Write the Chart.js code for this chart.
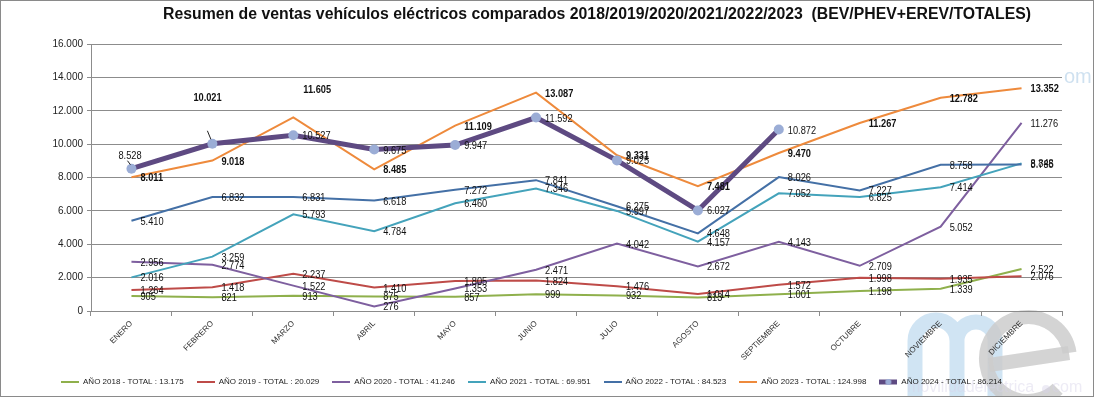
<!DOCTYPE html>
<html><head><meta charset="utf-8">
<script src="https://cdn.jsdelivr.net/npm/chart.js@4.4.1/dist/chart.umd.min.js"></script>
<style>
html,body{margin:0;padding:0;background:#fff;}
#wrap{position:relative;width:1094px;height:397px;box-sizing:border-box;border:1px solid #8a8a8a;background:#fff;overflow:hidden;}
canvas{display:block;}
</style></head><body>
<div id="wrap"><canvas id="c" width="1092" height="395"></canvas></div>
<script>
const TITLE = 'Resumen de ventas vehículos eléctricos comparados 2018/2019/2020/2021/2022/2023  (BEV/PHEV+EREV/TOTALES)';
const months = ['ENERO','FEBRERO','MARZO','ABRIL','MAYO','JUNIO','JULIO','AGOSTO','SEPTIEMBRE','OCTUBRE','NOVIEMBRE','DICIEMBRE'];
const ventas2018 = [905, 821, 913, 875, 857, 999, 932, 813, 1001, 1198, 1339, 2522];
const ventas2019 = [1264, 1418, 2237, 1410, 1805, 1824, 1476, 1014, 1572, 1998, 1935, 2076];
const ventas2020 = [2956, 2774, 1522, 276, 1353, 2471, 4042, 2672, 4143, 2709, 5052, 11276];
const ventas2021 = [2016, 3259, 5793, 4784, 6460, 7346, 5997, 4157, 7052, 6825, 7414, 8848];
const ventas2022 = [5410, 6832, 6831, 6618, 7272, 7841, 6275, 4648, 8026, 7227, 8758, 8785];
const ventas2023 = [8011, 9018, 11605, 8485, 11109, 13087, 9331, 7481, 9470, 11267, 12782, 13352];
const ventas2024 = [8528, 10021, 10527, 9675, 9947, 11592, 9025, 6027, 10872];
const legendNames = [
  'AÑO 2018 - TOTAL : 13.175',
  'AÑO 2019 - TOTAL : 20.029',
  'AÑO 2020 - TOTAL : 41.246',
  'AÑO 2021 - TOTAL : 69.951',
  'AÑO 2022 - TOTAL : 84.523',
  'AÑO 2023 - TOTAL : 124.998',
  'AÑO 2024 - TOTAL : 86.214'
];
const yMin = 0, yMax = 16000, yStep = 2000;

const FONT = "'Liberation Sans', Arial, sans-serif";
const GRID = '#8c8c8c';
const colors = ['#8fb04c', '#be4b48', '#7e5f9f', '#44a3bb', '#4470a6', '#ee8a3c', '#5e4a82'];
const MARKER = '#9badd6';
const SQUEEZE = 0.84;

function fmt(v){ return String(v).replace(/\B(?=(\d{3})+(?!\d))/g, '.'); }

// label placement tweaks (dataset index -> point index -> offset)
const LABEL_OFFSETS = {
  5: { 2: {dx: 10, dy: -27} },
  6: { 0: {dx: -13, dy: -13, leader: [[-4,-8],[-1,-4]]},
       1: {dx: -19, dy: -46, bold: true, leader: [[-5,-13],[-1.5,-4.5]]} }
};

function makeSample(color, lw, marker){
  const c = document.createElement('canvas');
  c.width = 18; c.height = 10;
  const g = c.getContext('2d');
  g.strokeStyle = color; g.lineWidth = lw;
  g.beginPath(); g.moveTo(0, 5); g.lineTo(18, 5); g.stroke();
  if (marker){ g.fillStyle = marker; g.beginPath(); g.arc(9, 5, 3, 0, Math.PI*2); g.fill(); }
  return c;
}
const samples = colors.map((c, i) => makeSample(c, i === 6 ? 5 : 2, i === 6 ? MARKER : null));

const series = [ventas2018, ventas2019, ventas2020, ventas2021, ventas2022, ventas2023, ventas2024];
const datasets = series.map((d, i) => ({
  label: legendNames[i],
  data: d,
  borderColor: colors[i],
  backgroundColor: colors[i],
  borderWidth: i === 6 ? 5 : 2,
  pointRadius: i === 6 ? 5 : 0,
  pointBackgroundColor: MARKER,
  pointBorderWidth: 0,
  tension: 0,
  fill: false,
  order: 7 - i,
  labelBold: i === 5
}));

const watermark = {
  id: 'watermark',
  beforeDraw(chart){
    const ctx = chart.ctx;
    ctx.save();
    ctx.strokeStyle = 'rgba(196,221,240,0.8)';
    ctx.lineWidth = 15;
    ctx.beginPath();
    ctx.moveTo(914, 400); ctx.lineTo(914, 340);
    ctx.arc(935, 340, 21, Math.PI, 0);
    ctx.lineTo(956, 400);
    ctx.moveTo(956, 340);
    ctx.arc(975, 340, 19, Math.PI, 0);
    ctx.lineTo(994, 400);
    ctx.stroke();
    ctx.strokeStyle = 'rgba(205,205,205,0.85)';
    ctx.lineWidth = 14;
    ctx.beginPath();
    ctx.arc(1027, 358, 42, -0.15, Math.PI/4, true);
    ctx.stroke();
    ctx.beginPath();
    ctx.moveTo(988, 364); ctx.lineTo(1068, 352);
    ctx.stroke();
    ctx.fillStyle = 'rgba(215,210,232,0.45)';
    ctx.font = '16px ' + FONT;
    ctx.textBaseline = 'middle';
    ctx.fillText('movilidadelectrica', 906, 387);
    ctx.beginPath(); ctx.arc(1045, 388, 4, 0, Math.PI*2); ctx.fill();
    ctx.fillText('com', 1051, 387);
    ctx.fillStyle = 'rgba(195,218,236,0.8)';
    ctx.font = '20px ' + FONT;
    ctx.fillText('om', 1063, 76);
    ctx.restore();
  }
};

const titlePlugin = {
  id: 'titleText',
  afterDraw(chart){
    const ctx = chart.ctx;
    ctx.save();
    ctx.font = 'bold 16px ' + FONT;
    const w = ctx.measureText(TITLE).width;
    const sx = 868 / w;
    ctx.fillStyle = '#111';
    ctx.textAlign = 'center';
    ctx.textBaseline = 'middle';
    ctx.translate(596, 14);
    ctx.scale(sx, 1);
    ctx.fillText(TITLE, 0, 0);
    ctx.restore();
  }
};

const valueLabels = {
  id: 'valueLabels',
  afterDatasetsDraw(chart){
    const ctx = chart.ctx;
    chart.data.datasets.forEach((ds, di) => {
      const meta = chart.getDatasetMeta(di);
      meta.data.forEach((pt, i) => {
        const v = ds.data[i];
        if (v == null) return;
        const off = (LABEL_OFFSETS[di] && LABEL_OFFSETS[di][i]) || {};
        const bold = off.bold !== undefined ? off.bold : ds.labelBold;
        const x = pt.x + (off.dx !== undefined ? off.dx : 9);
        const y = pt.y + (off.dy !== undefined ? off.dy : 1);
        ctx.save();
        ctx.textAlign = 'left';
        ctx.textBaseline = 'middle';
        ctx.font = (bold ? 'bold ' : '') + '11px ' + FONT;
        ctx.fillStyle = '#111';
        ctx.translate(x, y);
        ctx.scale(SQUEEZE, 1);
        ctx.fillText(fmt(v), 0, 0);
        ctx.restore();
        if (off.leader){
          ctx.save();
          ctx.strokeStyle = '#222'; ctx.lineWidth = 1;
          ctx.beginPath();
          ctx.moveTo(pt.x + off.leader[0][0], pt.y + off.leader[0][1]);
          ctx.lineTo(pt.x + off.leader[1][0], pt.y + off.leader[1][1]);
          ctx.stroke();
          ctx.restore();
        }
      });
    });
  }
};

new Chart(document.getElementById('c'), {
  type: 'line',
  data: { labels: months, datasets },
  options: {
    responsive: false,
    animation: false,
    layout: { padding: { top: 43, left: 0, right: 31, bottom: 0 } },
    plugins: {
      title: { display: false },
      tooltip: { enabled: false },
      legend: {
        position: 'bottom',
        labels: {
          usePointStyle: true,
          pointStyleWidth: 18,
          boxHeight: 8,
          padding: 13,
          color: '#222',
          font: { family: FONT, size: 8 },
          sort: (a, b) => a.datasetIndex - b.datasetIndex,
          generateLabels(chart){
            const items = Chart.defaults.plugins.legend.labels.generateLabels(chart);
            items.forEach(it => { it.pointStyle = samples[it.datasetIndex]; });
            return items;
          }
        }
      }
    },
    scales: {
      x: {
        offset: true,
        grid: { offset: true, drawOnChartArea: false, tickLength: 5, color: GRID },
        border: { color: GRID },
        ticks: { minRotation: 45, maxRotation: 45, autoSkip: false, color: '#333', padding: 3, font: { family: FONT, size: 8 } },
        afterFit(s){ s.height = 54; }
      },
      y: {
        min: yMin, max: yMax,
        grid: { color: GRID, tickLength: 4 },
        border: { color: GRID },
        ticks: { stepSize: yStep, padding: 4, color: '#222', font: { family: FONT, size: 10 }, callback: v => fmt(v) },
        afterFit(s){ s.width = 90; }
      }
    }
  },
  plugins: [watermark, valueLabels, titlePlugin]
});
</script>
</body></html>
